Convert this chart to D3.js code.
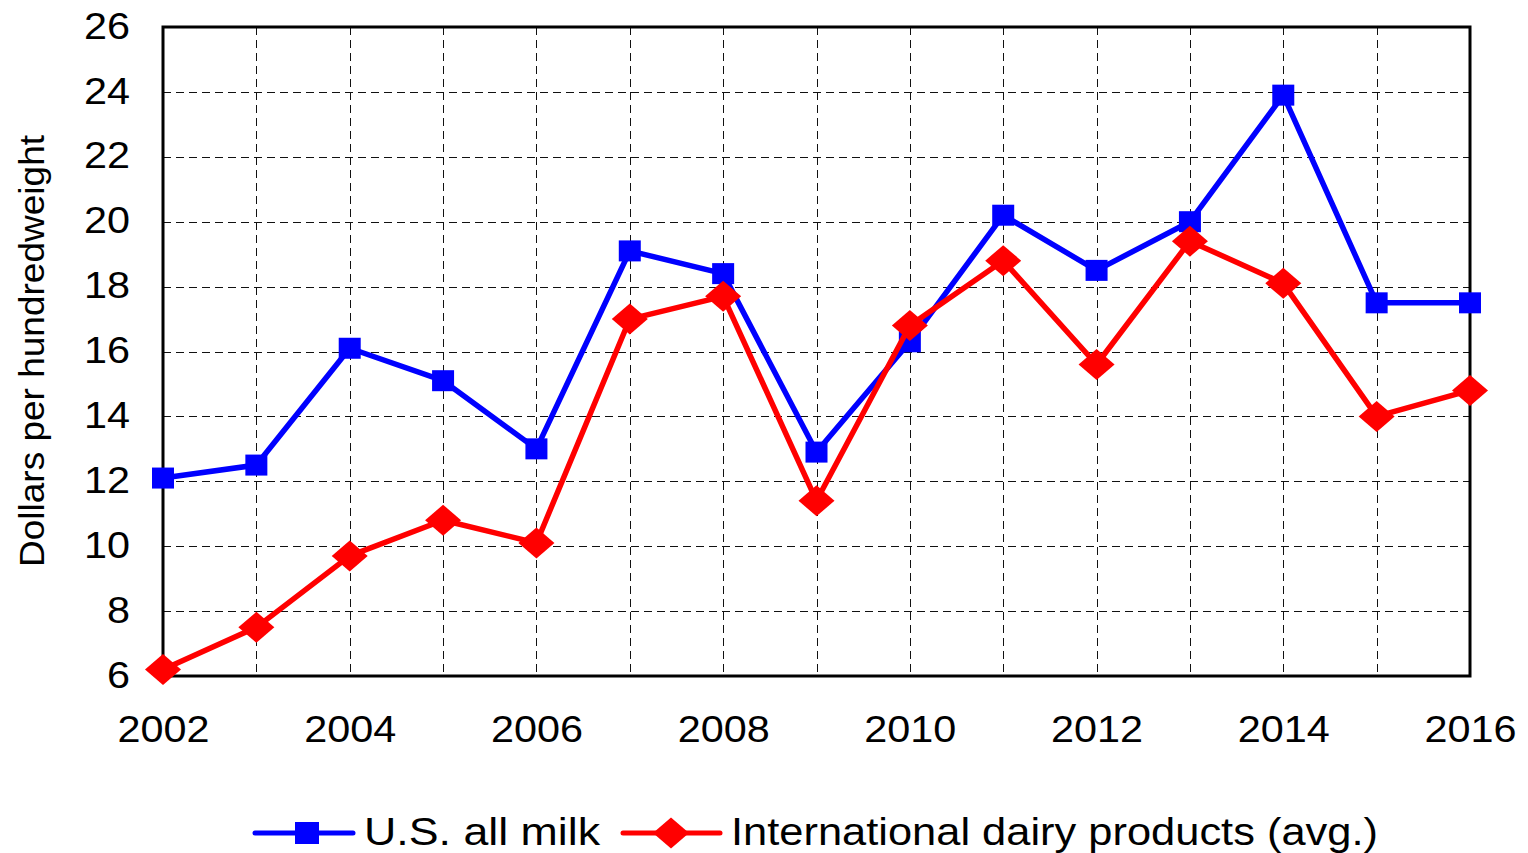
<!DOCTYPE html>
<html>
<head>
<meta charset="utf-8">
<script src="https://cdn.jsdelivr.net/npm/d3@7"></script>
<style>
  html, body { margin: 0; padding: 0; background: #fff; }
  svg { display: block; }
  text { font-family: "Liberation Sans", Arial, Helvetica, sans-serif; fill: #000; }
</style>
</head>
<body>
<svg id="chart" width="1528" height="853"></svg>
<script>
// Annual prices, dollars per hundredweight
const years = [2002, 2003, 2004, 2005, 2006, 2007, 2008, 2009, 2010, 2011, 2012, 2013, 2014, 2015, 2016];
const usAllMilk = [12.1, 12.5, 16.1, 15.1, 13.0, 19.1, 18.4, 12.9, 16.3, 20.2, 18.5, 20.0, 23.9, 17.5, 17.5];
const intlDairy = [6.2, 7.5, 9.7, 10.8, 10.1, 17.0, 17.7, 11.4, 16.8, 18.8, 15.6, 19.4, 18.1, 14.0, 14.8];
const seriesNames = ["U.S. all milk", "International dairy products (avg.)"];
const xTickLabels = [2002, 2004, 2006, 2008, 2010, 2012, 2014, 2016];
const yTickLabels = [6, 8, 10, 12, 14, 16, 18, 20, 22, 24, 26];
const yTitle = "Dollars per hundredweight";

const svg = d3.select("#chart");
const plot = { left: 163, right: 1470, top: 27, bottom: 676 };

const x = d3.scaleLinear().domain([2002, 2016]).range([plot.left, plot.right]);
const y = d3.scaleLinear().domain([6, 26]).range([plot.bottom, plot.top]);

const digitW = 23;   // rendered width of one numeral

// dashed grid
const grid = svg.append("g").attr("class", "grid")
  .attr("stroke", "#111").attr("stroke-width", 1).attr("stroke-dasharray", "8,5");
grid.selectAll("line.v").data(years.slice(1, -1)).join("line")
  .attr("class", "v")
  .attr("x1", d => Math.round(x(d)) + 0.5).attr("x2", d => Math.round(x(d)) + 0.5)
  .attr("y1", plot.top).attr("y2", plot.bottom);
grid.selectAll("line.h").data(yTickLabels.slice(1, -1)).join("line")
  .attr("class", "h")
  .attr("x1", plot.left).attr("x2", plot.right)
  .attr("y1", d => Math.round(y(d)) + 0.5).attr("y2", d => Math.round(y(d)) + 0.5);

// plot frame
svg.append("rect")
  .attr("x", plot.left).attr("y", plot.top)
  .attr("width", plot.right - plot.left).attr("height", plot.bottom - plot.top)
  .attr("fill", "none").attr("stroke", "#000").attr("stroke-width", 3);

// axes (labels only; the frame draws the axis lines)
const yAxis = svg.append("g")
  .attr("transform", `translate(${plot.left},0)`)
  .call(d3.axisLeft(y).tickValues(yTickLabels).tickSize(0).tickPadding(33).tickFormat(d3.format("d")));
yAxis.select(".domain").remove();
yAxis.selectAll("text")
  .attr("font-size", 37).attr("dy", "0.30em")
  .attr("textLength", d => String(d).length * digitW)
  .attr("lengthAdjust", "spacingAndGlyphs");

const xAxis = svg.append("g")
  .attr("transform", `translate(0,${plot.bottom})`)
  .call(d3.axisBottom(x).tickValues(xTickLabels).tickSize(0).tickPadding(40).tickFormat(d3.format("d")));
xAxis.select(".domain").remove();
xAxis.selectAll("text")
  .attr("font-size", 37)
  .attr("textLength", d => String(d).length * digitW)
  .attr("lengthAdjust", "spacingAndGlyphs");

// y-axis title
svg.append("text")
  .attr("transform", `translate(44,351) rotate(-90)`)
  .attr("text-anchor", "middle")
  .attr("font-size", 35)
  .attr("textLength", 432).attr("lengthAdjust", "spacingAndGlyphs")
  .text(yTitle);

// series
const line = d3.line().x((d, i) => x(years[i])).y(d => y(d));
const sq = { w: 22, h: 21 };
const dia = { w: 18, h: 15.5 };
const diamondPath = (cx, cy) => `M${cx},${cy - dia.h}L${cx + dia.w},${cy}L${cx},${cy + dia.h}L${cx - dia.w},${cy}Z`;

const blue = "#0000ff", red = "#ff0000";

svg.append("path").datum(usAllMilk)
  .attr("d", line).attr("fill", "none").attr("stroke", blue)
  .attr("stroke-width", 5.5).attr("stroke-linejoin", "round");
svg.append("g").selectAll("rect").data(usAllMilk).join("rect")
  .attr("x", (d, i) => x(years[i]) - sq.w / 2).attr("y", d => y(d) - sq.h / 2)
  .attr("width", sq.w).attr("height", sq.h).attr("fill", blue);

svg.append("path").datum(intlDairy)
  .attr("d", line).attr("fill", "none").attr("stroke", red)
  .attr("stroke-width", 5.5).attr("stroke-linejoin", "round");
svg.append("g").selectAll("path").data(intlDairy).join("path")
  .attr("d", (d, i) => diamondPath(x(years[i]), y(d))).attr("fill", red);

// legend
const legendY = 833;
const legend = svg.append("g");
legend.append("line").attr("x1", 255).attr("x2", 353).attr("y1", legendY).attr("y2", legendY)
  .attr("stroke", blue).attr("stroke-width", 5).attr("stroke-linecap", "round");
legend.append("rect").attr("x", 307 - 12).attr("y", legendY - 11).attr("width", 24).attr("height", 22).attr("fill", blue);
legend.append("text").attr("x", 364).attr("y", 845).attr("font-size", 38)
  .attr("textLength", 236).attr("lengthAdjust", "spacingAndGlyphs").text(seriesNames[0]);

legend.append("line").attr("x1", 623).attr("x2", 720).attr("y1", legendY).attr("y2", legendY)
  .attr("stroke", red).attr("stroke-width", 5).attr("stroke-linecap", "round");
legend.append("path").attr("d", diamondPath(671, legendY)).attr("fill", red);
legend.append("text").attr("x", 731).attr("y", 845).attr("font-size", 38)
  .attr("textLength", 647).attr("lengthAdjust", "spacingAndGlyphs").text(seriesNames[1]);
</script>
</body>
</html>
